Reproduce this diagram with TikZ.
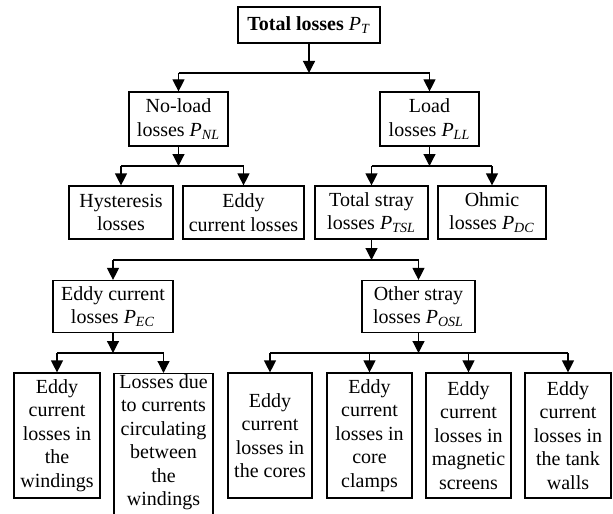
\documentclass[tikz,border=0pt]{standalone}
\usepackage{fontspec}
\setmainfont{Liberation Serif}
\usetikzlibrary{arrows.meta}

\newcommand{\Ploss}[1]{\textit{P}\textsubscript{\textit{#1}}}

\tikzset{
	lossbox/.style={draw, line width=0.6pt, align=center, inner sep=0pt,
		font=\fontsize{10}{11.7}\selectfont},
	leafbox/.style={lossbox, minimum height=62.5pt},
	feeds/.style={line width=0.6pt, -{Triangle[length=6pt,width=6pt]}},
	bus/.style={line width=0.6pt}
}

\begin{document}
\begin{tikzpicture}[x=0.5pt,y=-0.5pt]
		\useasboundingbox (0,0) rectangle (613,513);
		
		\node[lossbox, minimum width=71pt, minimum height=18pt] (TotalLosses) at (309,25) {\textbf{Total losses} \Ploss{T}};
		
		\node[lossbox, minimum width=49.5pt, minimum height=27pt] (NoLoad) at (178.5,119) {No-load\\losses \Ploss{NL}};
		\node[lossbox, minimum width=49.5pt, minimum height=27pt] (Load) at (429.5,119) {Load\\losses \Ploss{LL}};
		
		\node[lossbox, minimum width=52pt, minimum height=26.5pt] (Hysteresis) at (121,212.5) {Hysteresis\\losses};
		\node[lossbox, minimum width=60.5pt, minimum height=26.5pt] (EddyNoLoad) at (243.5,212.5) {Eddy\\current losses};
		\node[lossbox, minimum width=56.5pt, minimum height=26.5pt] (TotalStray) at (371.5,212.5) {Total stray\\losses \Ploss{TSL}};
		\node[lossbox, minimum width=54pt, minimum height=26.5pt] (Ohmic) at (492,212.5) {Ohmic\\losses \Ploss{DC}};
		
		\node[lossbox, minimum width=60pt, minimum height=26pt] (EddyCurrent) at (113,306.5) {Eddy current\\losses \Ploss{EC}};
		\node[lossbox, minimum width=56.5pt, minimum height=26pt] (OtherStray) at (418.5,306.5) {Other stray\\losses \Ploss{OSL}};
		
		\node[leafbox, minimum width=43pt] (Windings) at (57,435.5) {Eddy\\current\\losses in\\the\\windings};
		\node[lossbox, minimum width=49.5pt, inner ysep=0.5pt, anchor=north] (Circulating) at (163.5,373) {Losses due\\to currents\\circulating\\between\\the\\windings\\\rule{0pt}{14pt}};
		\node[leafbox, minimum width=42pt] (Cores) at (270,435.5) {Eddy\\current\\losses in\\the cores};
		\node[leafbox, minimum width=42.5pt] (Clamps) at (369.5,435.5) {Eddy\\current\\losses in\\core\\clamps};
		\node[leafbox, minimum width=42.5pt] (Screens) at (468.5,435.5) {Eddy\\current\\losses in\\magnetic\\screens};
		\node[leafbox, minimum width=43pt] (TankWalls) at (568,435.5) {Eddy\\current\\losses in\\the tank\\walls};
		
		\coordinate (TotalBus) at (0,73);
		\coordinate (NoLoadBus) at (0,166);
		\coordinate (StrayBus) at (0,260);
		\coordinate (LeafBus) at (0,353);
		
		\draw[feeds] (TotalLosses.south) -- (TotalLosses.south |- TotalBus);
		\draw[bus] (NoLoad.north |- TotalBus) -- (Load.north |- TotalBus);
		\foreach \child in {NoLoad, Load}
			\draw[feeds] (\child.north |- TotalBus) -- (\child.north);
		
		\draw[feeds] (NoLoad.south) -- (NoLoad.south |- NoLoadBus);
		\draw[bus] (Hysteresis.north |- NoLoadBus) -- (EddyNoLoad.north |- NoLoadBus);
		\foreach \child in {Hysteresis, EddyNoLoad}
			\draw[feeds] (\child.north |- NoLoadBus) -- (\child.north);
		
		\draw[feeds] (Load.south) -- (Load.south |- NoLoadBus);
		\draw[bus] (TotalStray.north |- NoLoadBus) -- (Ohmic.north |- NoLoadBus);
		\foreach \child in {TotalStray, Ohmic}
			\draw[feeds] (\child.north |- NoLoadBus) -- (\child.north);
		
		\draw[feeds] (TotalStray.south) -- (TotalStray.south |- StrayBus);
		\draw[bus] (EddyCurrent.north |- StrayBus) -- (OtherStray.north |- StrayBus);
		\foreach \child in {EddyCurrent, OtherStray}
			\draw[feeds] (\child.north |- StrayBus) -- (\child.north);
		
		\draw[feeds] (EddyCurrent.south) -- (EddyCurrent.south |- LeafBus);
		\draw[bus] (Windings.north |- LeafBus) -- (Circulating.north |- LeafBus);
		\foreach \child in {Windings, Circulating}
			\draw[feeds] (\child.north |- LeafBus) -- (\child.north);
		
		\draw[feeds] (OtherStray.south) -- (OtherStray.south |- LeafBus);
		\draw[bus] (Cores.north |- LeafBus) -- (TankWalls.north |- LeafBus);
		\foreach \child in {Cores, Clamps, Screens, TankWalls}
			\draw[feeds] (\child.north |- LeafBus) -- (\child.north);
\end{tikzpicture}
\end{document}
